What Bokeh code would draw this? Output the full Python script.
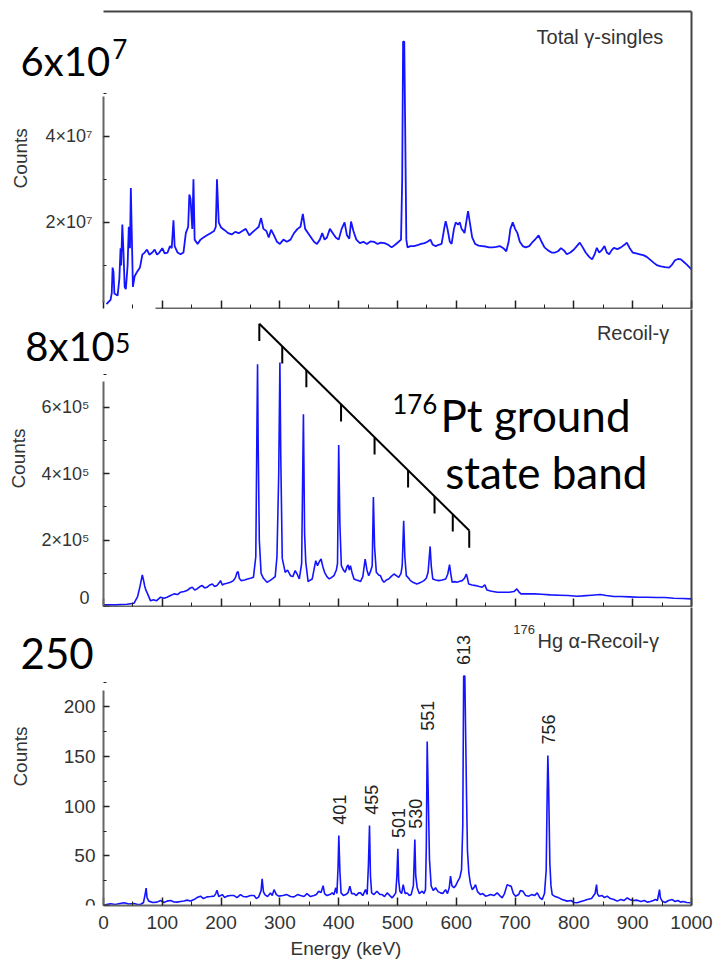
import numpy as np
from bokeh.plotting import figure
from bokeh.layouts import column
from bokeh.models import Range1d, FixedTicker, LinearAxis, Label, CustomLabelingPolicy
from bokeh.embed import file_html
from bokeh.resources import INLINE
from bokeh.core.properties import value

# ---------------- data ----------------
energy_major = [0, 100, 200, 300, 400, 500, 600, 700, 800, 900, 1000]
energy_minor = [50, 150, 250, 350, 450, 550, 650, 750, 850, 950]

# Total gamma-singles spectrum: (energy keV, counts / 1e7)
singles = [
    (5, 0.1), (12, 0.2), (14, 0.35), (15.5, 0.95), (17, 0.85), (18.5, 0.35), (24, 0.3), (27, 0.7),
    (29, 1.4), (30, 1.0), (32, 1.95), (34, 1.3), (36, 0.5), (38, 0.45), (41, 1.0), (43, 1.9),
    (45, 1.4), (46.5, 2.8), (48, 1.8), (50, 0.5), (53, 0.75), (57, 0.85), (62, 0.95), (66, 1.25),
    (70, 1.3), (74, 1.37), (78, 1.25), (83, 1.3), (87, 1.37), (91, 1.25), (95, 1.3), (100, 1.4),
    (104, 1.28), (109, 1.3), (113, 1.45), (116, 1.4), (119, 2.05), (121, 1.45), (126, 1.3),
    (131, 1.26), (136, 1.3), (140, 1.75), (144, 1.9), (146, 2.65), (148, 2.55), (151, 1.85),
    (153, 3.0), (155, 1.6), (160, 1.5), (165, 1.6), (170, 1.65), (176, 1.7), (182, 1.75),
    (188, 1.8), (191, 1.9), (193, 3.0), (196, 2.0), (200, 1.88), (206, 1.82), (212, 1.75),
    (218, 1.72), (224, 1.78), (230, 1.75), (236, 1.8), (242, 1.85), (248, 1.7), (254, 1.78),
    (260, 1.85), (264, 1.9), (268, 2.1), (272, 1.85), (277, 1.8), (281, 1.65), (285, 1.83),
    (290, 1.7), (295, 1.55), (300, 1.5), (306, 1.6), (312, 1.55), (318, 1.6), (324, 1.75),
    (330, 1.85), (335, 1.9), (339, 2.2), (343, 1.85), (348, 1.75), (353, 1.65), (358, 1.55),
    (363, 1.5), (368, 1.6), (372, 1.75), (376, 1.6), (380, 1.65), (385, 1.85), (390, 1.75),
    (395, 1.65), (400, 1.6), (405, 1.85), (410, 2.0), (414, 1.7), (418, 1.62), (421, 2.02),
    (425, 1.8), (430, 1.6), (436, 1.52), (442, 1.55), (448, 1.5), (454, 1.56), (460, 1.55),
    (466, 1.5), (472, 1.53), (478, 1.52), (484, 1.48), (490, 1.42), (496, 1.48), (502, 1.55),
    (506, 1.6), (508, 3.0), (509.5, 6.2), (511.5, 6.2), (513, 4.3), (515, 1.6), (517, 1.42),
    (522, 1.45), (528, 1.45), (534, 1.47), (540, 1.5), (546, 1.52), (551, 1.55), (556, 1.6),
    (560, 1.48), (565, 1.45), (570, 1.48), (575, 1.5), (580, 1.9), (582, 2.03), (585, 1.85),
    (589, 1.55), (592, 1.5), (596, 1.85), (599, 2.0), (603, 1.95), (606, 2.0), (609, 1.85),
    (612, 1.8), (614, 1.75), (618, 2.1), (620, 2.26), (623, 2.0), (627, 1.65), (632, 1.5),
    (638, 1.46), (644, 1.45), (650, 1.44), (656, 1.42), (662, 1.42), (668, 1.43), (674, 1.45),
    (680, 1.4), (685, 1.33), (689, 1.55), (692, 1.85), (696, 2.0), (700, 1.85), (704, 1.75),
    (708, 1.55), (713, 1.45), (718, 1.42), (724, 1.45), (730, 1.55), (735, 1.62), (740, 1.7),
    (745, 1.55), (750, 1.42), (756, 1.35), (762, 1.3), (768, 1.3), (773, 1.33), (778, 1.4),
    (783, 1.35), (788, 1.26), (794, 1.3), (800, 1.37), (805, 1.45), (810, 1.53), (815, 1.42),
    (820, 1.3), (826, 1.2), (831, 1.14), (835, 1.25), (839, 1.41), (843, 1.3), (847, 1.35),
    (852, 1.45), (856, 1.3), (860, 1.26), (864, 1.35), (868, 1.41), (874, 1.38), (880, 1.42),
    (886, 1.48), (890, 1.53), (895, 1.4), (900, 1.3), (906, 1.28), (912, 1.26), (918, 1.24),
    (924, 1.2), (930, 1.13), (936, 1.06), (942, 1.0), (948, 0.98), (955, 0.96), (962, 0.95),
    (967, 1.02), (972, 1.12), (977, 1.15), (982, 1.14), (987, 1.08), (992, 1.02), (997, 0.95),
    (1000, 0.91),
]
singles_scale = 1e7

# Recoil-gamma spectrum: (energy keV, counts / 1e5)
recoil = [
    (0, 0.05), (20, 0.05), (40, 0.07), (52, 0.1), (58, 0.3), (62, 0.6), (66, 0.95), (68, 0.8),
    (70, 0.62), (72, 0.5), (75, 0.38), (80, 0.17), (85, 0.2), (90, 0.17), (97, 0.28), (103, 0.25),
    (108, 0.28), (114, 0.33), (120, 0.38), (126, 0.36), (131, 0.43), (137, 0.45), (142, 0.48),
    (147, 0.55), (151, 0.58), (155, 0.5), (159, 0.53), (164, 0.6), (168, 0.63), (172, 0.56),
    (176, 0.58), (181, 0.65), (185, 0.68), (189, 0.6), (193, 0.63), (197, 0.72), (199, 0.78),
    (202, 0.65), (205, 0.68), (210, 0.7), (216, 0.73), (221, 0.78), (224.5, 0.88), (227, 1.02),
    (229, 1.05), (231, 0.85), (234, 0.78), (240, 0.8), (245, 0.83), (250, 0.85), (255, 0.88),
    (259, 1.5), (261, 5.5), (262, 7.3), (263, 5.0), (265, 2.0), (268, 1.0), (272, 0.85),
    (278, 0.73), (283, 0.78), (287, 0.83), (292, 0.9), (295, 1.5), (298, 4.0), (300, 7.35),
    (301.5, 4.5), (304, 1.45), (309, 1.03), (313, 1.1), (318, 0.93), (322, 0.9), (326, 1.08),
    (330, 0.95), (333, 0.83), (337, 1.3), (340, 5.79), (342, 2.2), (344, 1.33), (348, 0.75),
    (352, 0.8), (355, 0.83), (359, 1.2), (361, 1.38), (364, 1.23), (367, 1.35), (370, 1.43),
    (373, 1.2), (376, 1.03), (380, 0.9), (384, 0.83), (388, 0.88), (392, 0.93), (396, 1.1),
    (398, 1.3), (400, 4.87), (402, 2.5), (404.5, 1.23), (408, 1.1), (411, 1.03), (414, 1.2),
    (416, 1.25), (418, 1.1), (420, 1.23), (423, 1.0), (426, 0.83), (430, 0.8), (434, 0.78),
    (437, 0.75), (441, 0.9), (445, 1.43), (448, 1.1), (451, 0.93), (454, 1.05), (457, 1.23),
    (459, 3.3), (461, 1.8), (464, 1.03), (468, 0.95), (471, 0.93), (474, 0.8), (477, 0.73),
    (481, 0.8), (485, 0.83), (489, 0.9), (494, 0.98), (498, 0.93), (502, 0.88), (506, 1.0),
    (508, 1.23), (510.5, 2.58), (512.5, 1.5), (515, 0.93), (519, 0.85), (522, 0.78), (527, 0.72),
    (533, 0.68), (539, 0.72), (545, 0.78), (549, 0.85), (552, 1.03), (555.5, 1.81), (557.5, 1.2),
    (560, 0.83), (565, 0.8), (570, 0.78), (576, 0.8), (582, 0.83), (585.5, 0.98), (588.5, 1.26),
    (590.5, 1.0), (593, 0.73), (597, 0.75), (601, 0.73), (606, 0.76), (610, 0.78), (614, 0.85),
    (617, 0.98), (619, 0.85), (621, 0.68), (627, 0.65), (633, 0.63), (639, 0.6), (644, 0.58),
    (648.5, 0.65), (652, 0.5), (660, 0.46), (670, 0.43), (680, 0.43), (690, 0.43), (698, 0.45),
    (703, 0.53), (706, 0.45), (710, 0.38), (720, 0.38), (732, 0.38), (745, 0.37), (760, 0.35),
    (775, 0.34), (790, 0.33), (805, 0.31), (815, 0.32), (830, 0.34), (845, 0.36), (855, 0.33),
    (868, 0.3), (880, 0.3), (895, 0.29), (910, 0.28), (925, 0.28), (940, 0.27), (955, 0.27),
    (970, 0.25), (985, 0.24), (1000, 0.23),
]
recoil_scale = 1e5

# 176Hg alpha-recoil-gamma spectrum: (energy keV, counts)
hg = [
    (0, 0), (5, 1), (12, 1.7), (20, 1), (28, 2), (35, 2.7), (43, 1.5), (52, 2), (58, 1), (63, 1),
    (68, 3), (71, 12), (72.5, 17.5), (74, 8), (77, 4.4), (84, 3), (91, 3.4), (97, 5), (103, 3),
    (108, 4.4), (114, 5), (120, 3.5), (125, 3.4), (131, 4), (137, 4.5), (142, 5.4), (148, 4.5),
    (154, 6), (159, 8), (165, 9.4), (170, 7), (176, 8.7), (182, 9), (188, 9.4), (191, 12),
    (193, 15.4), (196, 9), (202, 11), (206, 8), (210, 9.4), (216, 10), (222, 10), (227, 8),
    (233, 11), (238, 9), (244, 8.7), (250, 10), (256, 10), (260, 7), (264, 8.7), (268, 15),
    (269.8, 26.8), (272, 14), (274.4, 11), (279, 9), (284, 12.7), (287, 10), (290, 16), (294, 11),
    (298, 9.4), (305, 10), (312, 11), (318, 9), (324, 8.7), (330, 11), (335, 10), (341, 9),
    (346, 12), (352, 9), (358, 10), (362, 11), (366, 14.4), (370, 13), (373.5, 20), (376, 12),
    (380, 10), (385, 11), (389, 12.7), (392, 11), (395, 17.8), (397, 12), (399, 40), (400.2, 70.4),
    (402, 35), (404, 12.7), (408, 10), (412, 11), (416, 13), (419, 19.4), (422, 12), (426, 12),
    (430, 10), (434, 12.7), (437, 12.7), (441, 10), (445.6, 16), (448.4, 11), (450.5, 40),
    (452.4, 80.4), (454, 30), (456, 12.7), (460, 11), (465, 14.4), (470, 11), (474, 11), (478, 9),
    (482.5, 12.7), (487, 10), (491, 7.7), (494, 10), (497, 12.7), (499, 30), (500.6, 57), (502, 25),
    (504, 14.4), (507, 12), (509.7, 21), (513, 12), (516.5, 12.7), (520, 10), (523.3, 11), (527, 20),
    (529.5, 66.3), (531, 30), (533.5, 17.8), (537, 12), (542, 14.4), (545, 12), (547.6, 16),
    (549, 60), (550.5, 165), (552, 120), (554.4, 46), (557.3, 19.4), (561, 15), (564.7, 17.8),
    (569, 14), (573.2, 12.7), (577, 12), (581.7, 16), (585, 12), (588, 18), (590.2, 29.5),
    (592.5, 20), (595.8, 17.8), (599, 20), (602.6, 24.5), (606, 28), (608.9, 36), (611, 80),
    (612.5, 231), (614.5, 231), (617.4, 110), (619, 55), (621.3, 33), (624, 22), (627, 16),
    (630, 18), (632.7, 21), (636, 14), (641.2, 11), (645, 12), (649.7, 9.4), (654, 10), (658.2, 11),
    (664, 10), (669.5, 12.7), (674, 10), (678, 7.7), (682, 12), (686.5, 21), (690, 20), (693.3, 19.4),
    (697, 12), (700.7, 9.4), (706, 11), (709, 15), (713.2, 14.4), (718, 10), (723.4, 9.4), (728, 11),
    (733, 10), (737.6, 12.7), (742, 8), (746.1, 6), (750, 12), (752.9, 36), (754.5, 110),
    (755.7, 151), (757, 120), (759.1, 42.5), (761, 20), (763.1, 11), (768, 9), (774.4, 7.7),
    (780, 6), (788.6, 4.4), (795, 5), (800, 3), (805.6, 2.7), (812, 4), (818, 5), (822.6, 6),
    (830, 7), (836, 12), (838.5, 21), (840, 12), (842.4, 9.4), (848, 10), (852, 8), (856.6, 9.4),
    (862, 7), (868, 6), (873.6, 4.4), (880, 6), (885, 5), (890.6, 7.7), (895, 6), (900, 5),
    (907.6, 5.4), (914, 4), (920, 5), (924.6, 3.4), (930, 4), (935, 5), (938.8, 6), (942, 5),
    (945.6, 16), (947, 8), (950.1, 4.4), (955, 3), (961, 5), (967.2, 6), (972, 4), (977, 5),
    (981.3, 3.4), (986, 4), (992, 3), (998.3, 2.7),
]

# labelled 176Hg peaks
hg_peak_energy = [401, 455, 501, 530, 551, 613, 756]
hg_peak_height = [70.4, 80.4, 57, 66.3, 165, 231, 151]
hg_peak_label = ["401", "455", "501", "530", "551", "613", "756"]

# 176Pt ground-state band marker (energies of the hanging ticks, keV)
band_energy = [265, 304, 345, 404, 461, 518, 563, 594, 622]
band_top_start = 8.52e5
band_top_end = 2.29e5
band_tick_len = 0.52e5

# y ticks
singles_ticks = [2e7, 4e7]
singles_tick_labels = ["2×10⁷", "4×10⁷"]
singles_minor = [1e7, 3e7, 5e7]
recoil_ticks = [0, 2e5, 4e5, 6e5]
recoil_tick_labels = ["0", "2×10⁵", "4×10⁵", "6×10⁵"]
recoil_minor = [1e5, 3e5, 5e5, 7e5]
hg_ticks = [0, 50, 100, 150, 200]
hg_minor = [25, 75, 125, 175, 225]

# ---------------- styling ----------------
FW = 691          # frame spans from the left page edge to the right frame edge
RIGHT = 26
X_LEFT = -175.17  # energy at the left page edge (axis origin sits 103 px in)
EDGE = "#444444"
AXC = "#666666"
TXT = "#333333"
LINEC = "#1414ff"
TICKFONT = "Liberation Sans"
BIGFONT = "Lato"


def plain_axis(bounds=None):
    ax = LinearAxis(ticker=FixedTicker(ticks=[]), axis_line_color=EDGE, axis_line_width=2,
                    major_tick_in=0, major_tick_out=0, minor_tick_in=0, minor_tick_out=0,
                    major_label_standoff=0, major_label_text_font_size="0px")
    if bounds is not None:
        ax.bounds = bounds
    return ax


def make_fig(frame_h, y_end, top_b, bottom_b):
    p = figure(frame_width=FW, frame_height=frame_h,
               x_range=Range1d(X_LEFT, 1000), y_range=Range1d(0, y_end),
               output_backend="svg", toolbar_location=None,
               min_border_left=0, min_border_right=RIGHT,
               min_border_top=top_b, min_border_bottom=bottom_b)
    p.outline_line_color = None
    p.xgrid.visible = False
    p.ygrid.visible = False
    p.add_layout(plain_axis(), "right")
    xa = p.below[0]
    xa.ticker = FixedTicker(ticks=energy_major, minor_ticks=energy_minor)
    xa.bounds = (0, 1000)
    xa.axis_line_color = AXC
    xa.axis_line_width = 2
    xa.major_tick_in = 8
    xa.major_tick_out = 0
    xa.minor_tick_in = 4
    xa.minor_tick_out = 0
    xa.major_tick_line_color = "#222222"
    xa.minor_tick_line_color = "#222222"
    xa.major_tick_line_width = 1.5
    ya = p.left[0]
    ya.fixed_location = 0
    ya.axis_line_color = AXC
    ya.axis_line_width = 2
    ya.major_tick_in = 6
    ya.major_tick_out = 0
    ya.minor_tick_in = 3
    ya.minor_tick_out = 0
    ya.major_tick_line_color = "#222222"
    ya.minor_tick_line_color = "#222222"
    ya.major_tick_line_width = 1.5
    ya.major_label_text_font = TICKFONT
    ya.major_label_text_color = TXT
    return p


def hide_x_labels(p):
    xa = p.below[0]
    xa.major_label_policy = CustomLabelingPolicy(code="return []")
    xa.major_label_text_font_size = "0px"
    xa.major_label_standoff = 0


def add_label(p, x, y, text, size, font=BIGFONT, color="black", align="left",
              baseline="middle", angle=0):
    p.add_layout(Label(x=x, y=y, text=text, text_font=font, text_font_size=size,
                       text_color=color, text_align=align, text_baseline=baseline, angle=angle))


def counts_label(p, x, y):
    add_label(p, x, y, "Counts", "19px", font=TICKFONT, color=TXT, align="center",
              baseline="middle", angle=np.pi / 2)


# ---------- top panel: total gamma singles ----------
p1 = make_fig(297, 6.9e7, 11, 1)
p1.add_layout(plain_axis(bounds=(0, 1000)), "above")
hide_x_labels(p1)
p1.below[0].bounds = (88, 1000)
ya1 = p1.left[0]
ya1.ticker = FixedTicker(ticks=singles_ticks, minor_ticks=singles_minor)
ya1.major_label_overrides = {int(t): l for t, l in zip(singles_ticks, singles_tick_labels)}
ya1.bounds = (1.4e6, 4.93e7)
ya1.major_label_text_font_size = "18px"
ya1.major_label_standoff = 11
s_e = np.array([e for e, c in singles])
s_c = np.array([c for e, c in singles]) * singles_scale
p1.line(s_e, s_c, line_color=LINEC, line_width=1.8)
add_label(p1, 952, 6.3e7, "Total γ-singles", "20px", font=TICKFONT, color=TXT, align="right")
add_label(p1, -141, 5.74e7, "6x10", "40px")
add_label(p1, 15, 6.02e7, "7", "26px")
counts_label(p1, -141, 3.49e7)

# ---------- middle panel: recoil-gamma ----------
p2 = make_fig(297, 8.95e5, 0, 1)
hide_x_labels(p2)
ya2 = p2.left[0]
ya2.ticker = FixedTicker(ticks=recoil_ticks, minor_ticks=recoil_minor)
ya2.major_label_overrides = {int(t): l for t, l in zip(recoil_ticks, recoil_tick_labels)}
ya2.bounds = (0, 6.78e5)
ya2.major_label_text_font_size = "18px"
ya2.major_label_standoff = 14
r_e = np.array([e for e, c in recoil])
r_c = np.array([c for e, c in recoil]) * recoil_scale
p2.line(r_e, r_c, line_color=LINEC, line_width=1.6)
# band marker
band_e = np.array(band_energy, dtype=float)
band_top = np.interp(band_e, [band_e[0], band_e[-1]], [band_top_start, band_top_end])
p2.line([band_e[0], band_e[-1]], [band_top[0], band_top[-1]], line_color="black", line_width=2)
p2.segment(x0=band_e, y0=band_top, x1=band_e, y1=band_top - band_tick_len,
           line_color="black", line_width=2)
add_label(p2, 962, 8.23e5, "Recoil-γ", "20px", font=TICKFONT, color=TXT, align="right")
add_label(p2, -133, 7.84e5, "8x10", "40px")
add_label(p2, 20, 7.93e5, "5", "26px")
add_label(p2, 491, 6.09e5, "176", "26px")
add_label(p2, 573, 5.76e5, "Pt ground", "44px")
add_label(p2, 581, 4.04e5, "state band", "44px")
counts_label(p2, -144.6, 4.46e5)

# ---------- bottom panel: 176Hg alpha-recoil-gamma ----------
p3 = make_fig(298, 300, 0, 0)
xa3 = p3.below[0]
xa3.major_label_text_font = TICKFONT
xa3.major_label_text_font_size = "19px"
xa3.major_label_text_color = TXT
xa3.major_label_standoff = 10
xa3.axis_label = "Energy (keV)"
xa3.axis_label_text_font = TICKFONT
xa3.axis_label_text_font_style = "normal"
xa3.axis_label_text_font_size = "19px"
xa3.axis_label_text_color = TXT
xa3.axis_label_standoff = 6
ya3 = p3.left[0]
ya3.ticker = FixedTicker(ticks=hg_ticks, minor_ticks=hg_minor)
ya3.bounds = (0, 216)
ya3.major_label_text_font_size = "19px"
ya3.major_label_standoff = 8
h_e = np.array([e for e, c in hg])
h_c = np.array([c for e, c in hg])
p3.line(h_e, h_c, line_color=LINEC, line_width=1.6)
p3.text(x=hg_peak_energy, y=[h + 11 for h in hg_peak_height], text=hg_peak_label,
        angle=np.pi / 2, text_align="left", text_baseline="middle",
        text_font=value(TICKFONT), text_font_size="18px", text_color="#222222")
add_label(p3, 697, 277.9, "176", "13px", font=TICKFONT, color=TXT)
add_label(p3, 738, 265.8, "Hg α-Recoil-γ", "20px", font=TICKFONT, color=TXT)
add_label(p3, -141, 253.7, "250", "42px")
counts_label(p3, -141, 150)

layout = column(p1, p2, p3, spacing=0)
open("out.html", "w").write(file_html(layout, INLINE))
